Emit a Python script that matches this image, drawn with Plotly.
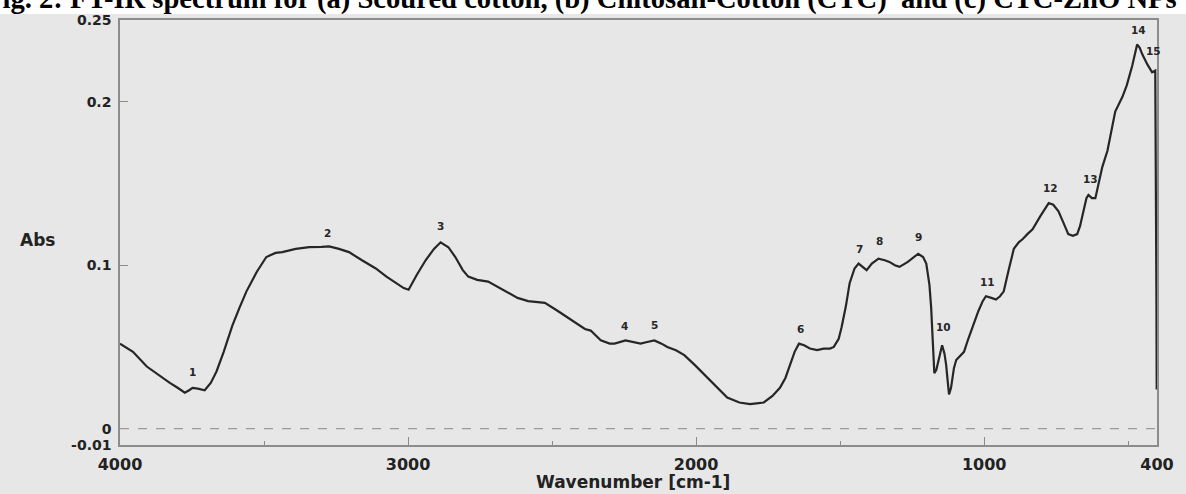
import plotly.graph_objects as go

# ---- data ----
wavenumber = [4000, 3955, 3907, 3860, 3827, 3800, 3775, 3760, 3748, 3730, 3706, 3685, 3665, 3640,
              3610, 3585, 3561, 3525, 3492, 3460, 3437, 3390, 3343, 3300, 3274, 3240, 3205, 3160,
              3112, 3075, 3043, 3015, 2998, 2970, 2939, 2910, 2887, 2860, 2836, 2810, 2791, 2760,
              2722, 2690, 2652, 2620, 2583, 2525, 2480, 2445, 2410, 2386, 2366, 2350, 2331, 2300,
              2283, 2245, 2220, 2193, 2170, 2145, 2120, 2100, 2070, 2041, 2005, 1972, 1930, 1892,
              1850, 1813, 1790, 1765, 1735, 1709, 1690, 1675, 1658, 1643, 1625, 1605, 1580, 1557,
              1535, 1522, 1505, 1495, 1480, 1467, 1450, 1436, 1420, 1408, 1390, 1367, 1345, 1329,
              1310, 1294, 1265, 1245, 1229, 1212, 1201, 1190, 1184, 1178, 1173, 1166, 1160, 1146,
              1138, 1132, 1126, 1122, 1115, 1105, 1097, 1080, 1070, 1055, 1039, 1020, 1005, 994,
              975, 959, 945, 932, 915, 897, 880, 866, 850, 832, 805, 776, 760, 742, 725, 708, 692,
              677, 667, 655, 645, 638, 626, 614, 603, 590, 572, 560, 545, 520, 505, 486, 475, 469,
              460, 451, 434, 417, 406, 403, 402, 401]
absorbance = [0.052, 0.047, 0.038, 0.032, 0.028, 0.025, 0.022, 0.0235, 0.025, 0.0245, 0.0235, 0.028,
              0.035, 0.047, 0.063, 0.074, 0.084, 0.096, 0.105, 0.1075, 0.108, 0.110, 0.111, 0.1112,
              0.1115, 0.110, 0.108, 0.103, 0.098, 0.093, 0.089, 0.086, 0.085, 0.094, 0.103, 0.110,
              0.114, 0.111, 0.105, 0.097, 0.093, 0.091, 0.090, 0.087, 0.083, 0.080, 0.078, 0.077,
              0.072, 0.068, 0.064, 0.061, 0.060, 0.057, 0.054, 0.052, 0.052, 0.054, 0.053, 0.052,
              0.053, 0.054, 0.052, 0.050, 0.048, 0.045, 0.039, 0.033, 0.026, 0.019, 0.016, 0.015,
              0.0155, 0.016, 0.020, 0.025, 0.031, 0.039, 0.047, 0.052, 0.051, 0.049, 0.048, 0.049,
              0.049, 0.050, 0.055, 0.062, 0.075, 0.089, 0.098, 0.101, 0.099, 0.097, 0.101, 0.104,
              0.103, 0.102, 0.100, 0.099, 0.102, 0.105, 0.107, 0.105, 0.101, 0.088, 0.074, 0.052,
              0.034, 0.036, 0.040, 0.051, 0.046, 0.039, 0.028, 0.021, 0.025, 0.037, 0.042, 0.045,
              0.047, 0.055, 0.063, 0.072, 0.078, 0.081, 0.080, 0.079, 0.081, 0.084, 0.097, 0.110,
              0.114, 0.116, 0.119, 0.122, 0.130, 0.138, 0.137, 0.133, 0.126, 0.119, 0.118, 0.119,
              0.124, 0.134, 0.141, 0.143, 0.141, 0.141, 0.150, 0.160, 0.170, 0.180, 0.194, 0.203,
              0.210, 0.222, 0.231, 0.235, 0.233, 0.229, 0.223, 0.218, 0.219, 0.150, 0.080, 0.024]

peak_labels = ["1", "2", "3", "4", "5", "6", "7", "8", "9", "10", "11", "12", "13", "14", "15"]
peak_x = [3748, 3278, 2887, 2248, 2145, 1637, 1433, 1364, 1229, 1142, 987, 769, 631, 465, 413]
peak_y = [0.0346, 0.120, 0.124, 0.063, 0.0635, 0.061, 0.110, 0.115, 0.117, 0.062, 0.090, 0.147,
          0.153, 0.244, 0.231]

x_tickvals = [4000, 3000, 2000, 1000, 400]
x_ticktext = ["4000", "3000", "2000", "1000", "400"]
y_tickvals = [-0.01, 0, 0.1, 0.2, 0.25]
y_ticktext = ["-0.01", "0", "0.1", "0.2", "0.25"]

title_text = "Fig. 2: FT-IR spectrum for (a) Scoured cotton, (b) Chitosan-Cotton (CTC)  and (c) CTC-ZnO NPs"

BG = "#e7e7e7"
INK = "#262626"
FRAME = "#8c8c8c"

W, H = 1186, 494
ML, MR, MT, MB = 120, 23, 16, 49
PW, PH = W - ML - MR, H - MT - MB

fig = go.Figure()
fig.add_trace(go.Scatter(x=wavenumber, y=absorbance, mode="lines",
                         line=dict(color=INK, width=2.2), hoverinfo="x+y", showlegend=False))

# dashed zero baseline
fig.add_shape(type="line", xref="paper", yref="y", x0=0, x1=1, y0=0, y1=0,
              line=dict(color="#9a9a9a", width=1.2, dash="dash"))

# white band at very top
fig.add_shape(type="rect", xref="paper", yref="paper", x0=-0.2, x1=1.1,
              y0=1 + (MT - 10) / PH, y1=1.2, fillcolor="white", line=dict(width=0), layer="below")

for t, px, py in zip(peak_labels, peak_x, peak_y):
    fig.add_annotation(x=px, y=py, xref="x", yref="y", text=t, showarrow=False,
                       xanchor="center", yanchor="middle",
                       font=dict(family="DejaVu Sans", size=10.5, color=INK, weight="bold"))

fig.add_annotation(text="Abs", xref="paper", yref="paper", x=(37 - ML) / PW, y=(H - MB - 238) / PH,
                   xanchor="center", yanchor="middle", showarrow=False,
                   font=dict(family="DejaVu Sans", size=17, color="#222", weight="bold"))
fig.add_annotation(text="Wavenumber [cm-1]", xref="paper", yref="paper", x=(636 - ML) / PW,
                   y=(H - MB - 482) / PH, xanchor="center", yanchor="middle", showarrow=False,
                   font=dict(family="DejaVu Sans", size=17, color="#222", weight="bold"))
fig.add_annotation(text=title_text, xref="paper", yref="paper", x=(-18 - ML) / PW,
                   y=1 + (MT - 13) / PH, xanchor="left", yanchor="bottom", showarrow=False,
                   font=dict(family="Liberation Serif", size=28.6, color="black", weight="bold"))

fig.update_layout(
    width=W, height=H,
    margin=dict(l=ML, r=MR, t=MT, b=MB),
    paper_bgcolor=BG, plot_bgcolor=BG,
    xaxis=dict(range=[4000, 400], tickvals=x_tickvals, ticktext=x_ticktext, ticks="inside",
               ticklen=8, tickcolor=FRAME, showgrid=False, zeroline=False, showline=True,
               linecolor=FRAME, linewidth=1.5, mirror=True, ticklabelstandoff=4,
               minor=dict(tickvals=[3500, 2500, 1500, 500], ticks="inside", ticklen=4, tickcolor=FRAME),
               tickfont=dict(family="DejaVu Sans", size=16, color="#222", weight="bold")),
    yaxis=dict(range=[-0.01, 0.25], tickvals=y_tickvals, ticktext=y_ticktext, ticks="inside",
               ticklen=8, tickcolor=FRAME, showgrid=False, zeroline=False, showline=True,
               linecolor=FRAME, linewidth=1.5, mirror=True, ticklabelstandoff=4,
               tickfont=dict(family="DejaVu Sans", size=14, color="#222", weight="bold")),
)

fig.write_html("out.html", config={"displayModeBar": False},
               post_script="document.body.style.margin='0';document.body.style.overflow='hidden';")
